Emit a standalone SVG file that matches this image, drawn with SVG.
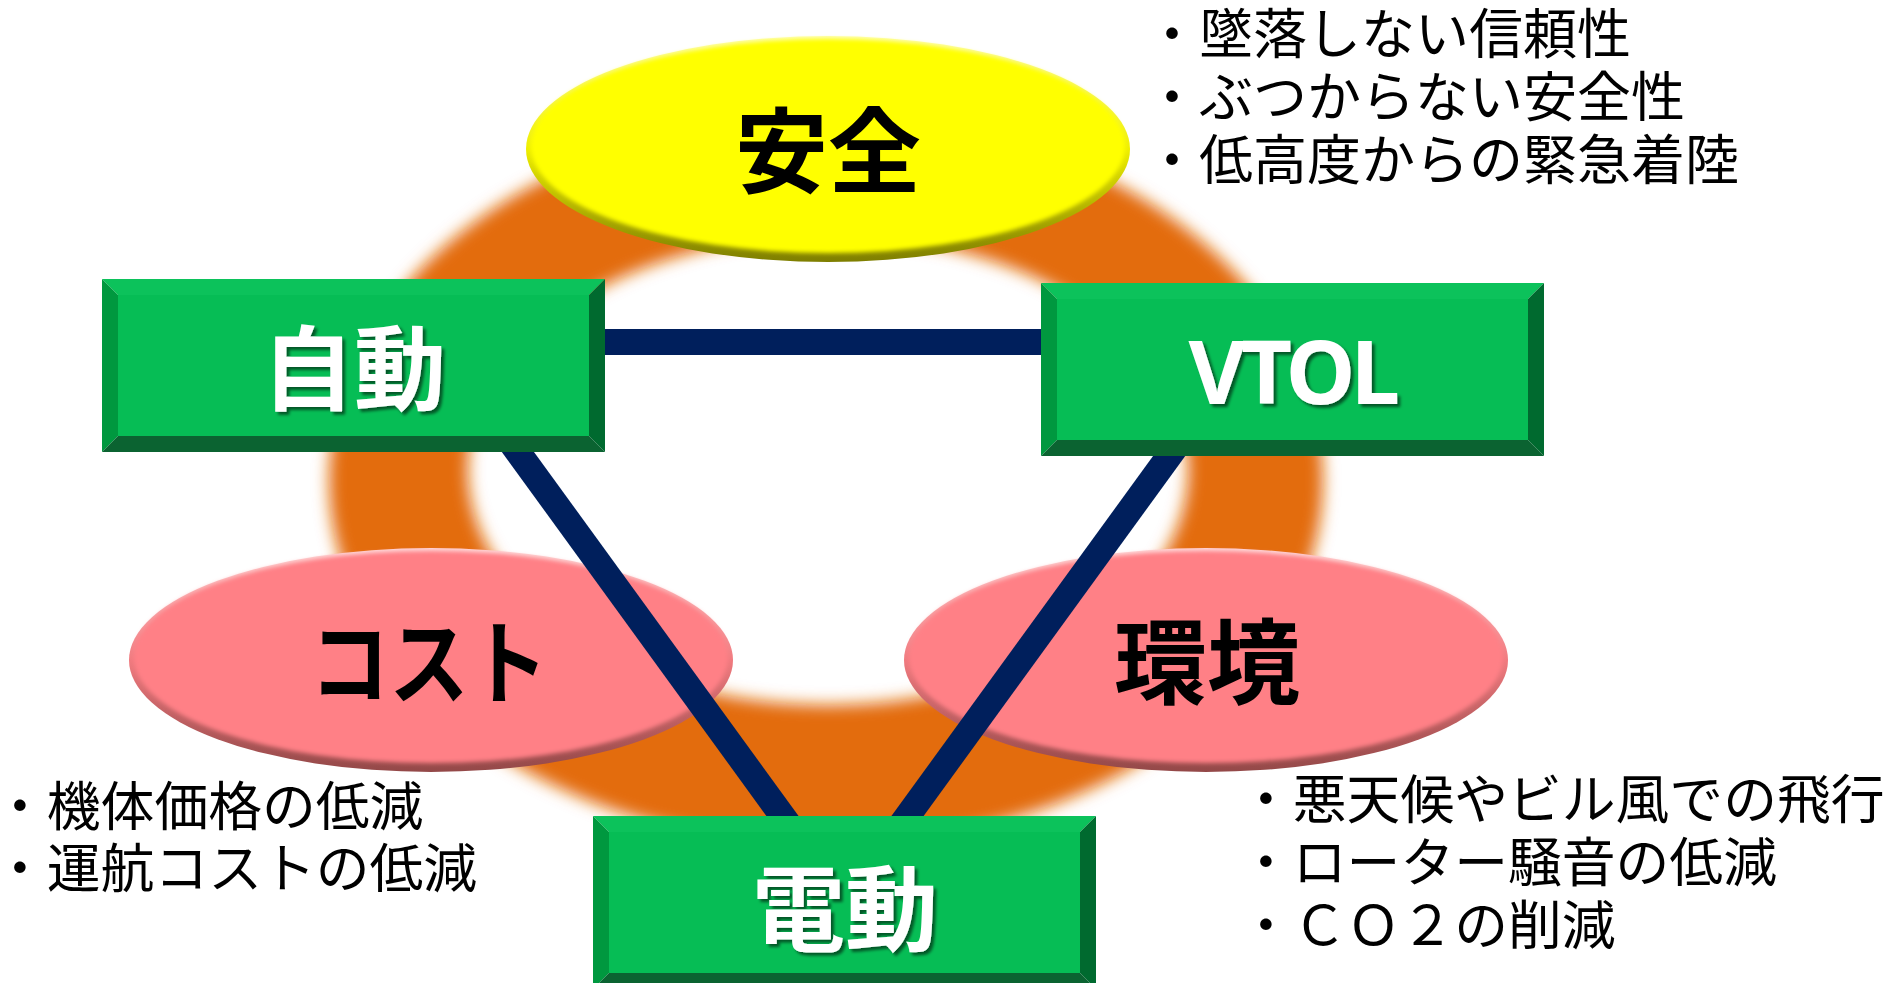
<svg xmlns="http://www.w3.org/2000/svg" xmlns:xlink="http://www.w3.org/1999/xlink" width="1885" height="983" viewBox="0 0 1885 983">
<defs>
<style>
.big{font-family:"Noto Sans CJK JP","Noto Sans",sans-serif;font-weight:700;text-anchor:middle}
.wt{fill:#fff;filter:url(#tshadow)}
.bk{fill:#000}
.bul{font-family:"Noto Sans CJK JP",sans-serif;font-size:54px;fill:#000}
.bul2{font-family:"Noto Sans CJK JP",sans-serif;font-size:53.8px;fill:#000}
.conn{stroke:#001F5C;stroke-width:26;fill:none;stroke-linecap:butt}
</style>
<filter id="soft" x="-20%" y="-20%" width="140%" height="140%"><feGaussianBlur stdDeviation="8"/></filter>
<filter id="blur2" x="-5%" y="-5%" width="110%" height="110%"><feGaussianBlur stdDeviation="2"/></filter>
<filter id="tshadow" x="-10%" y="-10%" width="130%" height="130%"><feDropShadow dx="3" dy="3" stdDeviation="1.8" flood-color="#000" flood-opacity="0.55"/></filter>
<linearGradient id="yRim" x1="0" y1="0" x2="0" y2="1">
<stop offset="0" stop-color="#FFFFB0"/><stop offset="0.5" stop-color="#EEEE00"/><stop offset="1" stop-color="#7E7E00"/>
</linearGradient>
<linearGradient id="pRim" x1="0" y1="0" x2="0" y2="1">
<stop offset="0" stop-color="#FFDADA"/><stop offset="0.5" stop-color="#F07A7F"/><stop offset="1" stop-color="#934848"/>
</linearGradient>
<g id="bevelbox">
<rect x="16" y="16" width="471" height="141" fill="#06BD55"/>
<polygon points="0,0 503,0 487,16 16,16" fill="#0CC25B"/>
<polygon points="0,0 16,16 16,157 0,173" fill="#00983F"/>
<polygon points="503,0 503,173 487,157 487,16" fill="#006A2F"/>
<polygon points="0,173 16,157 487,157 503,173" fill="#0B6331"/>
</g>
</defs>
<rect width="1885" height="983" fill="#fff"/>
<g id="ring">
<path d="M329,480 A497,365 0 1,0 1323,480 A497,365 0 1,0 329,480 Z M468,470 A360,235 0 1,1 1188,470 A360,235 0 1,1 468,470 Z" fill="#E36C0A" fill-rule="evenodd" filter="url(#soft)"/>
</g>
<g id="node-safety">
<ellipse cx="828" cy="149" rx="302" ry="113" fill="url(#yRim)"/>
<ellipse cx="828" cy="146" rx="297" ry="107" fill="#FFFF00" filter="url(#blur2)"/>
<text class="big bk" x="828" y="186" font-size="93">安全</text>
</g>
<g id="node-cost">
<ellipse cx="431" cy="660" rx="302" ry="112" fill="url(#pRim)"/>
<ellipse cx="431" cy="657" rx="297" ry="106" fill="#FF8086" filter="url(#blur2)"/>
<text class="big bk" x="429" y="697" font-size="92" textLength="238" lengthAdjust="spacingAndGlyphs">コスト</text>
</g>
<g id="node-env">
<ellipse cx="1206" cy="660" rx="302" ry="112" fill="url(#pRim)"/>
<ellipse cx="1206" cy="657" rx="297" ry="106" fill="#FF8086" filter="url(#blur2)"/>
<text class="big bk" x="1207" y="697" font-size="93">環境</text>
</g>
<g id="connectors">
<line class="conn" x1="440" y1="342" x2="1250" y2="342"/>
<line class="conn" x1="438" y1="342" x2="845" y2="902"/>
<line class="conn" x1="1252" y1="342" x2="845" y2="902"/>
</g>
<g id="node-auto">
<use xlink:href="#bevelbox" x="102" y="279"/>
<text class="big wt" x="354" y="403" font-size="92">自動</text>
</g>
<g id="node-vtol">
<use xlink:href="#bevelbox" x="1041" y="283"/>
<text class="wt" x="1292" y="404" font-size="88" letter-spacing="-4.5" font-family="'Noto Sans',sans-serif" font-weight="700" text-anchor="middle">VTOL</text>
</g>
<g id="node-electric">
<use xlink:href="#bevelbox" x="593" y="816"/>
<text class="big wt" x="845" y="944" font-size="93">電動</text>
</g>
<g id="notes-safety">
<text class="bul" x="1145" y="54">・墜落しない信頼性</text>
<text class="bul" x="1145" y="117">・ぶつからない安全性</text>
<text class="bul" x="1145" y="180">・低高度からの緊急着陸</text>
</g>
<g id="notes-cost">
<text class="bul2" x="-7" y="826">・機体価格の低減</text>
<text class="bul2" x="-7" y="888">・運航コストの低減</text>
</g>
<g id="notes-env">
<text class="bul2" x="1239" y="819">・悪天候やビル風での飛行</text>
<text class="bul2" x="1239" y="882">・ローター騒音の低減</text>
<text class="bul2" x="1239" y="945">・ＣＯ２の削減</text>
</g>
</svg>
